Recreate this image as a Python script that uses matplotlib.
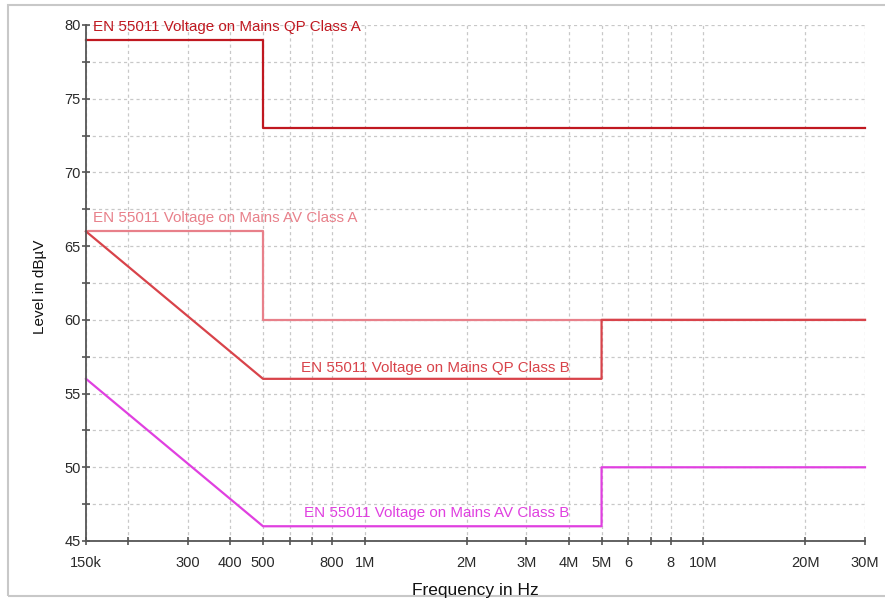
import matplotlib
matplotlib.use("Agg")
import matplotlib.pyplot as plt
from matplotlib.patches import Rectangle
from matplotlib.ticker import FixedLocator, FixedFormatter, NullFormatter

plt.rcParams['font.family'] = ['Liberation Sans', 'DejaVu Sans']

# ---- data ----
qp_a_f = [150e3, 500e3, 500e3, 30e6]
qp_a_v = [79, 79, 73, 73]
av_a_f = [150e3, 500e3, 500e3, 30e6]
av_a_v = [66, 66, 60, 60]
qp_b_f = [150e3, 500e3, 5e6, 5e6, 30e6]
qp_b_v = [66, 56, 56, 60, 60]
av_b_f = [150e3, 500e3, 5e6, 5e6, 30e6]
av_b_v = [56, 46, 46, 50, 50]

x_ticks = [150e3, 200e3, 300e3, 400e3, 500e3, 600e3, 700e3, 800e3, 1e6,
           2e6, 3e6, 4e6, 5e6, 6e6, 7e6, 8e6, 10e6, 20e6, 30e6]
x_labels = ['150k', '', '300', '400', '500', '', '', '800', '1M',
            '2M', '3M', '4M', '5M', '6', '', '8', '10M', '20M', '30M']
y_major = [45, 50, 55, 60, 65, 70, 75, 80]
y_minor = [47.5, 52.5, 57.5, 62.5, 67.5, 72.5, 77.5]

names = ['EN 55011 Voltage on Mains QP Class A',
         'EN 55011 Voltage on Mains AV Class A',
         'EN 55011 Voltage on Mains QP Class B',
         'EN 55011 Voltage on Mains AV Class B']

c_qpa = '#C01820'
c_ava = '#E8808A'
c_qpb = '#D8434A'
c_avb = '#E040E0'

fig = plt.figure(figsize=(8.85, 5.99), dpi=100)
ax = fig.add_axes([86/885, 1-541/599, (865-86)/885, (541-25)/599])

ax.set_xscale('log')
ax.set_xlim(150e3, 30e6)
ax.set_ylim(45, 80)

grid_kw = dict(color='#C8C8C8', linestyle=(0, (2.5, 2.5)), linewidth=0.9)
ax.xaxis.set_major_locator(FixedLocator(x_ticks))
ax.xaxis.set_major_formatter(FixedFormatter(x_labels))
ax.xaxis.set_minor_locator(FixedLocator([]))
ax.xaxis.set_minor_formatter(NullFormatter())
ax.yaxis.set_major_locator(FixedLocator(y_major))
ax.yaxis.set_minor_locator(FixedLocator(y_minor))
ax.grid(True, which='both', **grid_kw)
ax.set_axisbelow(True)

for s in ['top', 'right']:
    ax.spines[s].set_visible(False)
for s in ['left', 'bottom']:
    ax.spines[s].set_color('#555555')
    ax.spines[s].set_linewidth(1.3)

ax.tick_params(axis='both', which='both', direction='inout', length=6,
               width=1.2, color='#555555', labelsize=10.5, labelcolor='#2a2a2a')
ax.tick_params(axis='x', pad=8)
ax.tick_params(axis='y', pad=1)

lw = 1.6
ax.plot(qp_a_f, qp_a_v, color=c_qpa, lw=lw, clip_on=False)
ax.plot(av_a_f, av_a_v, color=c_ava, lw=lw, clip_on=False)
ax.plot(qp_b_f, qp_b_v, color=c_qpb, lw=lw, clip_on=False)
ax.plot(av_b_f, av_b_v, color=c_avb, lw=lw, clip_on=False)

tfs = 10.9
ax.annotate(names[0], xy=(150e3, 79.85), xytext=(5, 0), textcoords='offset points',
            color=c_qpa, fontsize=tfs, va='center', ha='left')
ax.annotate(names[1], xy=(150e3, 66.9), xytext=(5, 0), textcoords='offset points',
            color=c_ava, fontsize=tfs, va='center', ha='left')
ax.annotate(names[2], xy=(5e6, 56.75), xytext=(-23, 0), textcoords='offset points',
            color=c_qpb, fontsize=tfs, va='center', ha='right')
ax.annotate(names[3], xy=(5e6, 46.9), xytext=(-23, 0), textcoords='offset points',
            color=c_avb, fontsize=tfs, va='center', ha='right')

fig.text(40/885, 1-287/599, 'Level in dBµV', rotation=90, ha='center', va='center',
         fontsize=11, color='#111111')
fig.text(475/885, 1-590/599, 'Frequency in Hz', ha='center', va='center',
         fontsize=12.5, color='#111111')

fig.patches.append(Rectangle((8/885, 3/599), 1.0, 591/599, transform=fig.transFigure,
                             fill=False, edgecolor='#C8C8C8', linewidth=1.5))

fig.savefig('out.png', dpi=100)
